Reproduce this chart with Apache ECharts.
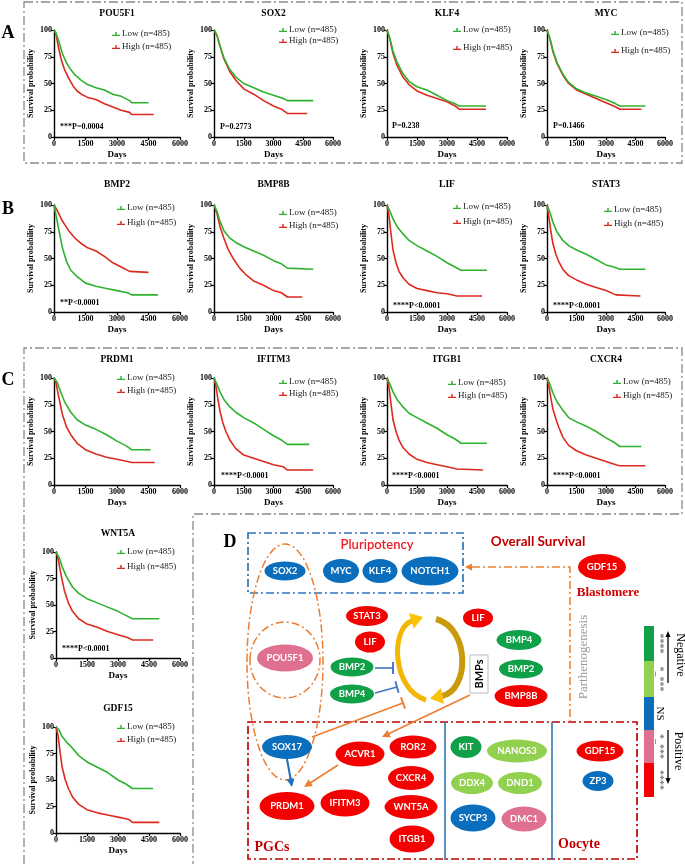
<!DOCTYPE html>
<html><head><meta charset="utf-8">
<script src="https://cdn.jsdelivr.net/npm/echarts/dist/echarts.min.js"></script>
<style>html,body{margin:0;padding:0;background:#fff}#c{width:685px;height:864px}</style>
</head><body><div id="c"></div>
<script>
// ---------------- DATA ----------------
const genes = ['POU5F1','SOX2','KLF4','MYC','BMP2','BMP8B','LIF','STAT3','PRDM1','IFITM3','ITGB1','CXCR4','WNT5A','GDF15'];
const pValues = ['***P=0.0004','P=0.2773','P=0.238','P=0.1466','**P<0.0001','','****P<0.0001','****P<0.0001','','****P<0.0001','****P<0.0001','****P<0.0001','****P<0.0001',''];
const groupNames = ['Low (n=485)','High (n=485)'];
const dayRange = [0, 6000];      // tick labels 0,1500,3000,4500,6000
const dayStep = 1500;
const survivalRange = [0, 100];  // tick labels 0,25,50,75,100
const survivalStep = 25;

const lowPOU5F1  = [[0,100],[100,97],[250,88],[400,78],[600,69],[800,63],[1000,58],[1300,53],[1600,49],[2000,46],[2400,44],[2800,40],[3200,38],[3600,34],[3700,32],[4500,32]];
const highPOU5F1 = [[0,100],[100,96],[200,85],[350,72],[500,63],[700,55],[900,48],[1100,43],[1300,40],[1600,37],[2000,35],[2400,31],[2800,28],[3200,25],[3600,23],[3700,21],[4750,21]];
const lowSOX2  = [[0,100],[150,95],[300,85],[500,74],[800,63],[1100,56],[1500,50],[2000,46],[2500,42],[3000,39],[3500,36],[3700,34],[5000,34]];
const highSOX2 = [[0,100],[150,95],[300,85],[500,73],[800,61],[1100,53],[1500,45],[2000,40],[2500,34],[3000,29],[3400,26],[3700,22],[4700,22]];
const lowKLF4  = [[0,100],[150,92],[300,80],[500,70],[800,59],[1100,52],[1500,47],[2000,44],[2500,39],[3000,34],[3400,31],[3600,29],[4950,29]];
const highKLF4 = [[0,100],[150,91],[300,78],[500,67],[800,56],[1100,49],[1500,43],[2000,39],[2500,36],[3000,33],[3400,29],[3600,26],[4950,26]];
const lowMYC  = [[0,100],[150,92],[300,81],[500,70],[800,59],[1100,51],[1500,45],[2000,41],[2500,38],[3000,35],[3500,31],[3700,29],[5000,29]];
const highMYC = [[0,100],[150,92],[300,80],[500,69],[800,58],[1100,50],[1500,44],[2000,40],[2500,36],[3000,32],[3500,28],[3700,26],[4800,26]];
const lowBMP2  = [[0,100],[100,90],[250,75],[400,60],[600,47],[800,39],[1100,33],[1500,27],[2000,24],[2500,22],[3000,20],[3500,18],[3700,16],[4950,16]];
const highBMP2 = [[0,100],[150,95],[400,85],[700,76],[1000,69],[1300,64],[1600,60],[2000,57],[2400,52],[2800,46],[3200,42],[3600,38],[4500,37]];
const lowBMP8B  = [[0,100],[150,94],[300,85],[500,76],[800,69],[1100,65],[1500,61],[2000,57],[2500,53],[3000,48],[3400,45],[3700,41],[5000,40]];
const highBMP8B = [[0,100],[150,92],[300,80],[500,69],[700,59],[1000,49],[1300,41],[1600,35],[2000,29],[2500,25],[3000,20],[3400,18],[3700,14],[4450,14]];
const lowLIF  = [[0,100],[150,94],[300,87],[500,80],[800,73],[1100,67],[1500,62],[2000,57],[2500,52],[3000,46],[3400,42],[3700,39],[5000,39]];
const highLIF = [[0,100],[100,90],[200,73],[300,58],[450,46],[600,38],[800,32],[1100,26],[1500,22],[2000,20],[2500,18],[3000,17],[3500,15],[4750,15]];
const lowSTAT3  = [[0,100],[150,93],[300,84],[500,75],[800,67],[1100,62],[1500,58],[2000,54],[2500,49],[3000,44],[3400,42],[3700,40],[5000,40]];
const highSTAT3 = [[0,100],[100,88],[200,75],[300,64],[450,54],[600,47],[800,40],[1100,34],[1500,30],[2000,26],[2500,23],[3000,20],[3500,16],[4750,15]];
const lowPRDM1  = [[0,100],[150,96],[300,88],[500,78],[800,68],[1100,61],[1500,56],[2000,52],[2500,47],[3000,41],[3400,37],[3700,33],[4600,33]];
const highPRDM1 = [[0,100],[100,95],[250,80],[400,66],[600,54],[800,47],[1100,39],[1500,33],[2000,29],[2500,26],[3000,24],[3500,22],[3700,21],[4800,21]];
const lowIFITM3  = [[0,100],[150,94],[300,87],[500,80],[800,73],[1100,68],[1500,63],[2000,58],[2500,52],[3000,46],[3400,42],[3700,38],[4800,38]];
const highIFITM3 = [[0,100],[100,92],[200,80],[300,69],[450,58],[600,50],[800,42],[1100,34],[1500,28],[2000,25],[2500,22],[3000,19],[3500,17],[3700,14],[5000,14]];
const lowITGB1  = [[0,100],[150,94],[300,87],[500,80],[800,73],[1100,67],[1500,63],[2000,58],[2500,53],[3000,47],[3400,43],[3700,39],[5000,39]];
const highITGB1 = [[0,100],[100,91],[200,76],[300,61],[450,50],[600,42],[800,35],[1100,29],[1500,24],[2000,21],[2500,19],[3000,17],[3500,15],[4800,14]];
const lowCXCR4  = [[0,100],[150,94],[300,86],[500,78],[800,70],[1100,63],[1500,59],[2000,55],[2500,50],[3000,44],[3400,40],[3700,36],[4800,36]];
const highCXCR4 = [[0,100],[100,92],[200,81],[300,71],[450,62],[600,54],[800,45],[1100,37],[1500,32],[2000,28],[2500,25],[3000,22],[3500,19],[3700,18],[5000,18]];
const lowWNT5A  = [[0,100],[150,95],[300,86],[500,77],[800,67],[1100,61],[1500,56],[2000,52],[2500,48],[3000,44],[3400,40],[3700,37],[5000,37]];
const highWNT5A = [[0,100],[100,94],[250,78],[400,64],[600,52],[800,44],[1100,37],[1500,32],[2000,29],[2500,25],[3000,22],[3500,19],[3700,17],[4700,17]];
const lowGDF15  = [[0,100],[150,97],[300,91],[500,86],[800,80],[1100,73],[1500,67],[2000,62],[2500,57],[3000,50],[3400,46],[3700,42],[4700,42]];
const highGDF15 = [[0,100],[100,92],[200,76],[300,62],[450,50],[600,42],[800,34],[1100,27],[1500,22],[2000,19],[2500,17],[3000,15],[3500,13],[3700,10],[5000,10]];

const lowCurves  = [lowPOU5F1,lowSOX2,lowKLF4,lowMYC,lowBMP2,lowBMP8B,lowLIF,lowSTAT3,lowPRDM1,lowIFITM3,lowITGB1,lowCXCR4,lowWNT5A,lowGDF15];
const highCurves = [highPOU5F1,highSOX2,highKLF4,highMYC,highBMP2,highBMP8B,highLIF,highSTAT3,highPRDM1,highIFITM3,highITGB1,highCXCR4,highWNT5A,highGDF15];

// Diagram (panel D) genes and their significance class
const nodeNames  = ['SOX2','MYC','KLF4','NOTCH1','POU5F1','STAT3','LIF','BMP2','BMP4','LIF','BMP4','BMP2','BMP8B','GDF15','SOX17','ACVR1','ROR2','CXCR4','WNT5A','ITGB1','PRDM1','IFITM3','KIT','NANOS3','DDX4','DND1','SYCP3','DMC1','GDF15','ZP3'];
const nodeClass  = ['ns','ns','ns','ns','pos1','pos4','pos4','neg4','neg4','pos4','neg4','neg4','pos4','pos4','ns','pos4','pos4','pos4','pos4','pos4','pos4','pos4','neg4','neg1','neg1','neg1','ns','pos1','pos4','ns'];
const scaleClasses = ['neg4','neg1','ns','pos1','pos4'];
const scaleLabels  = ['****','*_***','NS','*_***','****'];

// ---------------- LAYOUT / STYLE ----------------
const SERIF = '"Liberation Serif","Times New Roman",serif';
const SANS = 'Lato,"Liberation Sans",sans-serif';
const GREEN = '#2eb22e', RED = '#dd2a1e';
const classColor = {neg4:'#10a048', neg1:'#92d050', ns:'#0a6ebd', pos1:'#e0708f', pos4:'#f50000'};

const gridBox = [[54,30,126,107],[214,30,119,107],[387,30,120,107],[547,30,118,107],
  [54,205,126,107],[214,205,119,107],[387,205,120,107],[547,205,118,107],
  [54,378,126,107],[214,378,119,107],[387,378,120,107],[547,378,118,107],
  [56,552,124,106],[56,727,124,106]];
const titleY = [14,14,14,14,185,185,185,185,360,360,360,360,534,709];
const legendPos = [[112,29,13],[279,25,11],[453,25,18],[611,28,18],[117,203,15],[279,208,13],[453,202,15],[604,205,14],[117,373,13],[279,377,12],[448,378,13],[613,377,14],[117,547,15],[117,722,13]];
const pPos = [[60,127],[220,127],[392,126],[553,126],[60,303],null,[393,306],[553,306],null,[221,476],[392,476],[553,476],[62,649],null];
const nodePos = [[285,571],[341,571],[380,571],[430,571],[285,658],[367,616],[370,642],[352,667],[352,694],[478,618],[519,640],[521,669],[521,696],[602,567],[287,747],[360,754],[413,747],[411,778],[411,807],[412,839],[287,806],[345,803],[466,747],[517,751],[472,783],[520,783],[473,818],[524,819],[600,751],[598,781]];
const nodeSize = [[41,19],[36,24],[35,24],[57,29],[56,27],[42,20],[30,21],[43,19],[44,19],[30,19],[45,20],[44,19],[53,22],[48,26],[50,24],[49,25],[47,23],[46,24],[53,24],[45,27],[55,28],[49,27],[31,22],[60,23],[42,22],[44,22],[45,27],[45,25],[47,21],[31,20]];

// ---------------- BUILD ----------------
const grids=[], xAxes=[], yAxes=[], series=[], legends=[], graphics=[];
const axisFont = {fontFamily:SERIF, fontWeight:'bold', color:'#000'};
gridBox.forEach((b,i)=>{
  grids.push({left:b[0], top:b[1], width:b[2], height:b[3]});
  xAxes.push({gridIndex:i, type:'value', min:dayRange[0], max:dayRange[1], interval:dayStep,
    name:'Days', nameLocation:'middle', nameGap:13, nameTextStyle:Object.assign({fontSize:9},axisFont),
    axisLine:{show:true, lineStyle:{color:'#000', width:1.4}}, axisTick:{show:true, length:3, lineStyle:{color:'#000', width:1.2}},
    axisLabel:Object.assign({fontSize:8, margin:3, formatter:v=>String(v)},axisFont), splitLine:{show:false}});
  yAxes.push({gridIndex:i, type:'value', min:survivalRange[0], max:survivalRange[1], interval:survivalStep,
    name:'Survival probability', nameLocation:'middle', nameGap:19, nameTextStyle:Object.assign({fontSize:8},axisFont),
    axisLine:{show:true, lineStyle:{color:'#000', width:1.4}}, axisTick:{show:true, length:3, lineStyle:{color:'#000', width:1.2}},
    axisLabel:Object.assign({fontSize:8, margin:2, formatter:v=>String(v)},axisFont), splitLine:{show:false}});
  series.push({type:'line', name:groupNames[1], xAxisIndex:i, yAxisIndex:i, data:highCurves[i], showSymbol:false, symbol:'none', color:RED, lineStyle:{width:1.6}, animation:false, silent:true});
  series.push({type:'line', name:groupNames[0], xAxisIndex:i, yAxisIndex:i, data:lowCurves[i], showSymbol:false, symbol:'none', color:GREEN, lineStyle:{width:1.6}, animation:false, silent:true});
  const lp = legendPos[i];
  legends.push({left:lp[0], top:lp[1], orient:'vertical', itemGap:lp[2]-10, itemWidth:8, itemHeight:5, padding:0,
    icon:'path://M0,3.4H10V5.2H0Z M4.1,0H5.9V5H4.1Z', data:groupNames, selectedMode:false,
    textStyle:{fontFamily:SERIF, fontSize:9, color:'#222', lineHeight:10, padding:[0,0,0,-3]}});
  graphics.push({type:'text', x:b[0]+b[2]/2, y:titleY[i], style:{text:genes[i], fontFamily:SERIF, fontWeight:'bold', fontSize:9.5, fill:'#000', align:'center', verticalAlign:'middle'}});
  if (pPos[i]) graphics.push({type:'text', x:pPos[i][0], y:pPos[i][1], style:{text:pValues[i], fontFamily:SERIF, fontWeight:'bold', fontSize:8, fill:'#000', align:'left', verticalAlign:'middle'}});
});

// hidden full-canvas grid for diagram nodes
const dg = gridBox.length;
grids.push({left:0, top:0, width:685, height:864});
xAxes.push({gridIndex:dg, type:'value', min:0, max:685, show:false});
yAxes.push({gridIndex:dg, type:'value', min:0, max:864, inverse:true, show:false});
series.push({type:'scatter', name:'diagram', xAxisIndex:dg, yAxisIndex:dg, animation:false, silent:true, z:5,
  data: nodeNames.map((n,i)=>({name:n, value:nodePos[i], symbolSize:nodeSize[i], itemStyle:{color:classColor[nodeClass[i]], opacity:1}})),
  itemStyle:{opacity:1},
  label:{show:true, position:'inside', formatter:'{b}', color:'#fff', fontFamily:SANS, fontWeight:'bold', fontSize:9.5}});

// frames & panel letters
const frameStyle = {fill:'none', stroke:'#8a8a8a', lineWidth:1.3, lineDash:[9,3,2,3]};
graphics.push({type:'rect', shape:{x:24,y:2,width:658,height:161}, style:frameStyle});
graphics.push({type:'polyline', shape:{points:[[24,864],[24,348],[682,348],[682,514],[193,514],[193,864]]}, style:frameStyle});
[['A',8,33],['B',8,209],['C',8,380],['D',230,542]].forEach(l=>graphics.push({type:'text', x:l[1], y:l[2], style:{text:l[0], fontFamily:SERIF, fontWeight:'bold', fontSize:18, fill:'#000', align:'center', verticalAlign:'middle'}}));

// diagram decorations
const ORANGE='#ed7d31', DRED='#c00000', BLUEL='#2e75b6';
const dd=[8,3,2,3];
function txt(t,x,y,o){graphics.push({type:'text', x, y, rotation:o.rot||0, z:10, style:{text:t, fontFamily:o.f||SANS, fontWeight:o.w||'normal', fontSize:o.s||12, fill:o.c||'#000', align:'center', verticalAlign:'middle'}});}
function head(x1,y1,x2,y2,len,w,color){const dx=x2-x1,dy=y2-y1,L=Math.hypot(dx,dy),ux=dx/L,uy=dy/L,bx=x2-ux*len,by=y2-uy*len;
  graphics.push({type:'polygon', z:6, shape:{points:[[x2,y2],[bx-uy*w,by+ux*w],[bx+uy*w,by-ux*w]]}, style:{fill:color}});}
function arrow(x1,y1,x2,y2,color,lw,len,w){const L=Math.hypot(x2-x1,y2-y1);const ex=x2-(x2-x1)/L*len*0.7, ey=y2-(y2-y1)/L*len*0.7;
  graphics.push({type:'line', z:6, shape:{x1,y1,x2:ex,y2:ey}, style:{stroke:color, lineWidth:lw}}); head(x1,y1,x2,y2,len,w,color);}
function tbar(x1,y1,x2,y2,color,lw,half){const dx=x2-x1,dy=y2-y1,L=Math.hypot(dx,dy),ux=dx/L,uy=dy/L;
  graphics.push({type:'line', z:6, shape:{x1,y1,x2,y2}, style:{stroke:color, lineWidth:lw}});
  graphics.push({type:'line', z:6, shape:{x1:x2-uy*half,y1:y2+ux*half,x2:x2+uy*half,y2:y2-ux*half}, style:{stroke:color, lineWidth:lw+0.3}});}

graphics.push({type:'rect', shape:{x:248,y:533,width:215,height:60}, style:{fill:'none', stroke:BLUEL, lineWidth:1.7, lineDash:dd}});
graphics.push({type:'rect', shape:{x:248,y:722,width:389,height:137}, style:{fill:'none', stroke:DRED, lineWidth:1.7, lineDash:dd}});
graphics.push({type:'ellipse', shape:{cx:285,cy:662,rx:38,ry:118}, style:{fill:'none', stroke:ORANGE, lineWidth:1.5, lineDash:dd}});
graphics.push({type:'ellipse', shape:{cx:285,cy:660,rx:35,ry:38}, style:{fill:'none', stroke:ORANGE, lineWidth:1.5, lineDash:dd}});
graphics.push({type:'line', shape:{x1:445,y1:722,x2:445,y2:860}, style:{stroke:BLUEL, lineWidth:1.6}});
graphics.push({type:'line', shape:{x1:552,y1:722,x2:552,y2:860}, style:{stroke:BLUEL, lineWidth:1.6}});
graphics.push({type:'polyline', shape:{points:[[472,567],[570,567],[570,722]]}, style:{fill:'none', stroke:ORANGE, lineWidth:1.5, lineDash:dd}});
head(480,567,465,567,7,3.5,ORANGE);

// BMP cycle arrows
graphics.push({type:'bezierCurve', z:4, shape:{x1:426,y1:700,cpx1:392,cpy1:690,cpx2:390,cpy2:628,x2:412,y2:621}, style:{fill:'none', stroke:'#f2b705', lineWidth:5}});
graphics.push({type:'polygon', z:4, shape:{points:[[423,617],[413.8,628.7],[409,613]]}, style:{fill:'#fcc20a'}});
graphics.push({type:'bezierCurve', z:4, shape:{x1:436,y1:619,cpx1:470,cpy1:628,cpx2:470,cpy2:690,x2:442,y2:696}, style:{fill:'none', stroke:'#c99a0b', lineWidth:6}});
graphics.push({type:'polygon', z:4, shape:{points:[[430,698.5],[444,704],[441,688]]}, style:{fill:'#fcc20a'}});

// inhibition / activation
tbar(375,668,393,668,'#4472c4',1.6,6);
tbar(375,693,397,687,'#4472c4',1.6,6);
tbar(312,737,403,703,ORANGE,1.6,6);
arrow(470,695,382,737,ORANGE,1.6,8,4);
arrow(338,765,304,787,ORANGE,1.6,8,4);
arrow(287,759,292,787,'#1f6fbf',2,8,4);

// BMPs box
graphics.push({type:'rect', z:5, shape:{x:470,y:655,width:18,height:38}, style:{fill:'#fff', stroke:'#bbb', lineWidth:1}});
txt('BMPs',479,674,{rot:Math.PI/2, w:'bold', s:11});

// labels
txt('Pluripotency',377,545,{c:'#ee1c25', s:13, w:'600'});
txt('Overall Survival',538,542,{c:DRED, s:13.5, w:'bold'});
txt('Blastomere',608,593,{c:'#d40000', s:13, w:'bold', f:SERIF});
txt('PGCs',272,847,{c:DRED, s:14, w:'bold', f:SERIF});
txt('Oocyte',579,844,{c:DRED, s:14, w:'bold', f:SERIF});
txt('Parthenogenesis',584,657,{c:'#9a9a9a', s:13, f:SERIF, rot:Math.PI/2});

// significance scale
const segY = [626,661,697,730,763,797];
scaleClasses.forEach((k,i)=>{
  graphics.push({type:'rect', shape:{x:644,y:segY[i],width:10,height:segY[i+1]-segY[i]}, style:{fill:classColor[k]}});
  txt(scaleLabels[i],660,(segY[i]+segY[i+1])/2,{rot:-Math.PI/2, s:k==='ns'?11:10, c:k==='ns'?'#000':'#777', f:SERIF, w:k==='ns'?'normal':'bold'});
});
arrow(668,683,668,631,'#000',1.3,6,2.5);
arrow(668,730,668,784,'#000',1.3,6,2.5);
txt('Negative',680,655,{rot:-Math.PI/2, s:12, f:SERIF});
txt('Positive',678,751,{rot:-Math.PI/2, s:12, f:SERIF});

const chart = echarts.init(document.getElementById('c'), null, {renderer:'canvas'});
chart.setOption({animation:false, backgroundColor:'#fff', grid:grids, xAxis:xAxes, yAxis:yAxes, legend:legends, series, graphic:{elements:graphics}});
</script></body></html>
